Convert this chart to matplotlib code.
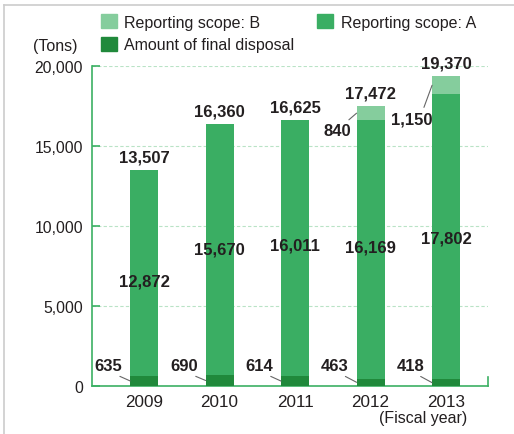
#/usr/bin/env python
"""
Waste generation and final disposal by fiscal year (stacked bars)
"""

import matplotlib
matplotlib.use('Agg')
import matplotlib.pyplot as plt
from matplotlib.patches import Patch
from matplotlib.lines import Line2D

plt.rcParams['font.family'] = ['Liberation Sans', 'DejaVu Sans']

# data (tons)
years = ['2009', '2010', '2011', '2012', '2013']
final_disposal = [635, 690, 614, 463, 418]
scope_a = [12872, 15670, 16011, 16169, 17802]   # scope A without final disposal
scope_b = [0, 0, 0, 840, 1150]
totals = [13507, 16360, 16625, 17472, 19370]

# colours
c_b = '#85cd9d'
c_a = '#3aae63'
c_disp = '#20893b'
c_axis = '#3cb064'
c_grid = '#b9e3c6'
c_text = '#231f20'
c_lead = '#666666'

# label heights for the scope A values (inside the bars)
a_label_y = [6550, 8550, 8800, 8700, 9250]

fig = plt.figure(figsize=(5.14, 4.35), dpi=100)
ax = fig.add_axes([92 / 514, 48 / 435, 396 / 514, 320 / 435])

x = list(range(len(years)))
width = 0.37
a_bottom = final_disposal
b_bottom = [d + a for d, a in zip(final_disposal, scope_a)]

ax.bar(x, final_disposal, width, color=c_disp, zorder=3, label='Amount of final disposal')
ax.bar(x, scope_a, width, bottom=a_bottom, color=c_a, zorder=3, label='Reporting scope: A')
ax.bar(x, scope_b, width, bottom=b_bottom, color=c_b, zorder=3, label='Reporting scope: B')

ax.set_xlim(-0.69, 4.556)
ax.set_ylim(0, 20000)
ax.set_yticks([0, 5000, 10000, 15000, 20000])
ax.set_yticklabels(['0', '5,000', '10,000', '15,000', '20,000'])
ax.set_xticks(x)
ax.set_xticklabels(years, fontsize=12.3)

ax.yaxis.grid(True, color=c_grid, linestyle=(0, (3, 2)), linewidth=0.8, zorder=0)
ax.set_axisbelow(True)
ax.spines['top'].set_visible(False)
ax.spines['right'].set_bounds(0, 550)
for s in ['left', 'bottom', 'right']:
    ax.spines[s].set_color(c_axis)
    ax.spines[s].set_linewidth(1.2)
ax.tick_params(axis='y', direction='in', length=6, width=1.2, color=c_axis,
               labelsize=11.3, labelcolor=c_text, pad=6.5)
ax.tick_params(axis='x', length=0, pad=5.5, labelcolor=c_text)

bold = dict(fontsize=12, fontweight='bold', color=c_text)

for i in x:
    # totals on top
    ax.text(i, totals[i] + 810, f'{totals[i]:,}', ha='center', va='center', **bold)
    # scope A value inside the bar
    ax.text(i, a_label_y[i], f'{scope_a[i]:,}', ha='center', va='center', **bold)
    # final disposal with leader line
    left = i - width / 2
    ax.annotate(f'{final_disposal[i]:,}', xy=(left, final_disposal[i] * 0.5),
                xytext=(left - 0.29, 1280), ha='center', va='center',
                arrowprops=dict(arrowstyle='-', color=c_lead, lw=0.8,
                                relpos=(0.65, 0.0), shrinkA=1, shrinkB=0),
                **bold)

# scope B values with leader lines
b_label_pos = {3: (-0.25, 15940), 4: (-0.265, 16690)}
for i, (dx, ly) in b_label_pos.items():
    left = i - width / 2
    ax.annotate(f'{scope_b[i]:,}', xy=(left, b_bottom[i] + scope_b[i] * 0.5),
                xytext=(left + dx, ly), ha='center', va='center',
                arrowprops=dict(arrowstyle='-', color=c_lead, lw=0.8,
                                relpos=(0.75, 1.0), shrinkA=1, shrinkB=0),
                **bold)

ax.text(-0.093, 1.0625, '(Tons)', transform=ax.transAxes, ha='center', va='center',
        fontsize=11.5, color=c_text)
ax.text(3.7, -0.097, '(Fiscal year)', transform=ax.get_xaxis_transform(),
        ha='center', va='center', fontsize=11.5, color=c_text)

handles = [Patch(color=c_b, label='Reporting scope: B'),
           Patch(color=c_disp, label='Amount of final disposal'),
           Patch(color=c_a, label='Reporting scope: A')]
fig.legend(handles=handles, ncol=2, loc='upper left', bbox_to_anchor=(101 / 514, 1 - 15 / 435),
           frameon=False, fontsize=11.5, handlelength=1.0, handleheight=1.0,
           handletextpad=0.45, labelspacing=0.45, columnspacing=1.45, borderpad=0,
           borderaxespad=0, labelcolor=c_text)

# light frame on the left and top edge of the panel
fig.add_artist(Line2D([4 / 514, 4 / 514], [0, 1 - 6 / 435], color='#cccccc', lw=1.2,
                      transform=fig.transFigure))
fig.add_artist(Line2D([4 / 514, 1], [1 - 6 / 435, 1 - 6 / 435], color='#cccccc', lw=1.2,
                      transform=fig.transFigure))

fig.savefig('out.png', dpi=100, facecolor='white')
